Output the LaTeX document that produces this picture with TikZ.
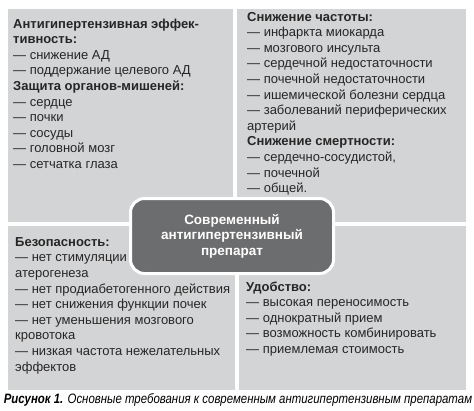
\documentclass[tikz,border=0pt]{standalone}
\usepackage{fontspec}
\setmainfont{Liberation Sans}
\newfontfamily\capfont[FakeStretch=0.84]{Liberation Sans}
\definecolor{panelgray}{RGB}{211,212,214}
\definecolor{hubgray}{RGB}{108,109,111}
\begin{document}
\begin{tikzpicture}[x=1pt, y={(0pt,-1pt)},
    txt/.style={anchor=base west, inner sep=0pt, align=left,
        font=\fontsize{13}{15.6}\selectfont, text=black!85}]
    \useasboundingbox (0,0) rectangle (474,410);
    % four panels
    \fill[panelgray] (8,9) rectangle (233,222);
    \fill[panelgray] (237,9) rectangle (466,222);
    \fill[panelgray] (8,226) rectangle (235,390);
    \fill[panelgray] (239,226) rectangle (466,390);
    % texts, placed by the baseline of their last line
    \node[txt] (efficacy) at (13,168.5) {\textbf{Антигипертензивная эффек-}\\
        \textbf{тивность:}\\
        — снижение АД\\
        — поддержание целевого АД\\
        \textbf{Защита органов-мишеней:}\\
        — сердце\\
        — почки\\
        — сосуды\\
        — головной мозг\\
        — сетчатка глаза};
    \node[txt] (outcomes) at (247,192.6) {\textbf{Снижение частоты:}\\
        — инфаркта миокарда\\
        — мозгового инсульта\\
        — сердечной недостаточности\\
        — почечной недостаточности\\
        — ишемической болезни сердца\\
        — заболеваний периферических\\
        артерий\\
        \textbf{Снижение смертности:}\\
        — сердечно-сосудистой,\\
        — почечной\\
        — общей.};
    \node[txt] (safety) at (15,371) {\textbf{Безопасность:}\\
        — нет стимуляции\\
        атерогенеза\\
        — нет продиабетогенного действия\\
        — нет снижения функции почек\\
        — нет уменьшения мозгового\\
        кровотока\\
        — низкая частота нежелательных\\
        эффектов};
    \node[txt] (comfort) at (246,353.5) {\textbf{Удобство:}\\
        — высокая переносимость\\
        — однократный прием\\
        — возможность комбинировать\\
        — приемлемая стоимость};
    % central drug
    \node[fill=hubgray, draw=white, line width=3pt, rounded corners=14pt,
        minimum width=203pt, minimum height=75pt, align=center, text=white,
        font=\bfseries\fontsize{13.5}{15.6}\selectfont] (drug) at (232,236)
        {Современный\\антигипертензивный\\препарат};
    \node[anchor=base, inner sep=0pt, font=\capfont\itshape\fontsize{13.6}{15}\selectfont]
        (caption) at (238,403) {\textbf{Рисунок 1.} Основные требования к современным антигипертензивным препаратам};
\end{tikzpicture}
\end{document}
